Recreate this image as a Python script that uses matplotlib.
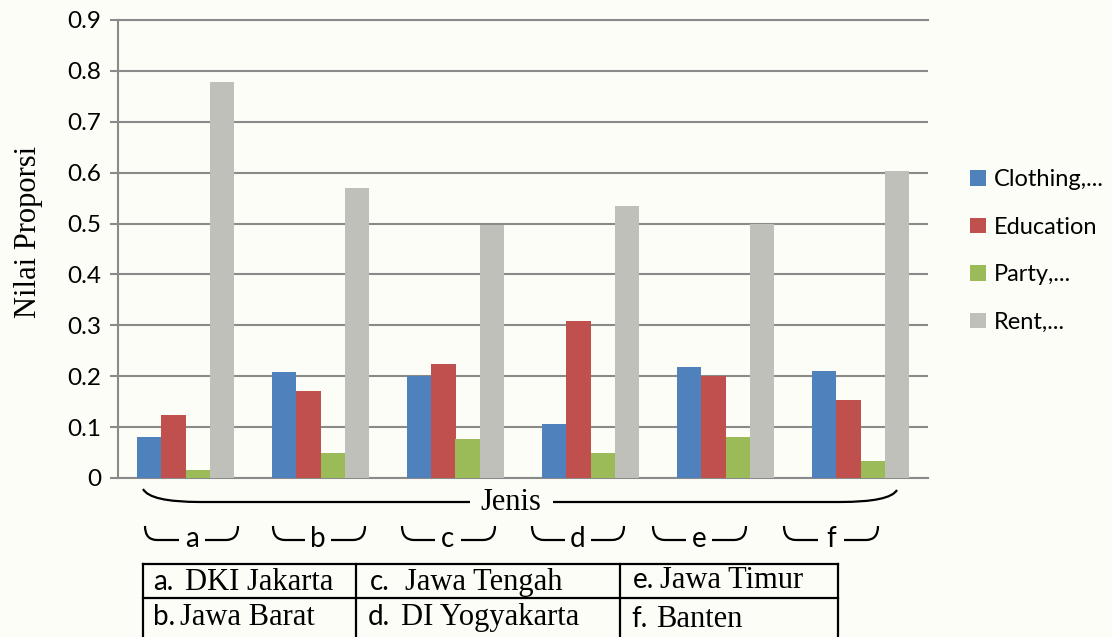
import matplotlib.pyplot as plt
import numpy as np
from matplotlib.patches import Patch, PathPatch
from matplotlib.path import Path
from matplotlib.lines import Line2D

# data
jenis = ['a', 'b', 'c', 'd', 'e', 'f']
provinsi = ['DKI Jakarta', 'Jawa Barat', 'Jawa Tengah', 'DI Yogyakarta', 'Jawa Timur', 'Banten']
seri = ['Clothing,...', 'Education', 'Party,...', 'Rent,...']
clothing = [0.081, 0.209, 0.201, 0.107, 0.219, 0.211]
education = [0.124, 0.171, 0.224, 0.309, 0.200, 0.153]
party = [0.015, 0.050, 0.077, 0.049, 0.081, 0.034]
rent = [0.778, 0.570, 0.497, 0.534, 0.500, 0.603]
yticks = [0, 0.1, 0.2, 0.3, 0.4, 0.5, 0.6, 0.7, 0.8, 0.9]

warna = ['#4f81bd', '#c0504d', '#9bbb59', '#c0c0bb']
abu = '#8a8a8a'
latar = '#fdfdf8'
sans = 'Lato'
serif = 'Liberation Serif'

W, H = 1112, 637


def fp(x, y):
    # pixel (from top-left) -> figure fraction
    return x / W, 1 - y / H


fig = plt.figure(figsize=(W / 100, H / 100), dpi=100, facecolor=latar)
ax = fig.add_axes([118 / W, 1 - 478 / H, 810 / W, 458 / H], facecolor=latar)

x = np.arange(len(jenis))
w = 0.18
for k, nilai in enumerate([clothing, education, party, rent]):
    ax.bar(x + (k - 1.5) * w, nilai, w, color=warna[k], linewidth=0, label=seri[k], zorder=3)

ax.set_xlim(-0.5, len(jenis) - 0.5)
ax.set_ylim(0, 0.9)
ax.set_yticks(yticks)
ax.set_yticklabels(['0' if v == 0 else '%.1f' % v for v in yticks], fontfamily=sans, fontsize=17.5)
ax.yaxis.grid(True, color=abu, linewidth=1.5, zorder=0)
ax.tick_params(axis='y', length=6, width=1.5, color=abu, pad=6)
ax.tick_params(axis='x', length=0, labelbottom=False)
for s in ['left', 'bottom', 'top']:
    ax.spines[s].set_color(abu)
    ax.spines[s].set_linewidth(1.5)
ax.spines['right'].set_visible(False)

ax.set_ylabel('Nilai Proporsi', fontfamily=serif, fontsize=22, va='center')
ax.yaxis.set_label_coords(-0.111, 0.537)

handles = [Patch(facecolor=c, edgecolor='none') for c in warna]
fig.legend(handles, seri, loc='upper left', bbox_to_anchor=fp(961, 160), frameon=False,
           prop={'family': sans, 'size': 17}, handlelength=0.65, handleheight=0.65,
           handletextpad=0.35, labelspacing=1.12, borderaxespad=0)


def garis(titik, kode):
    pts = [fp(px, py) for px, py in titik]
    fig.add_artist(PathPatch(Path(pts, kode), transform=fig.transFigure,
                             facecolor='none', edgecolor='black', linewidth=1.6))


# big brace under the axis with "Jenis"
M, L, C = Path.MOVETO, Path.LINETO, Path.CURVE3
garis([(143, 489), (150, 502), (200, 502), (470, 502)], [M, C, C, L])
garis([(553, 502), (840, 502), (890, 502), (897, 490)], [M, L, C, C])
fig.text(*fp(511, 510), 'Jenis', fontfamily=serif, fontsize=22, ha='center', va='baseline')

# small braces, one per group
kurung = [(145, 238, 192), (273, 365, 318), (402, 495, 448),
          (532, 624, 578), (653, 746, 699), (784, 878, 831)]
for (x0, x1, xc), huruf in zip(kurung, jenis):
    garis([(x0, 526), (x0, 540), (x0 + 12, 540), (xc - 13, 540)], [M, C, C, L])
    garis([(xc + 13, 540), (x1 - 12, 540), (x1, 540), (x1, 526)], [M, L, C, C])
    fig.text(*fp(xc, 547), huruf, fontfamily=sans, fontsize=20, ha='center', va='baseline')

# legend table for the group letters
for yy in [564, 598]:
    fig.add_artist(Line2D([143 / W, 838 / W], [1 - yy / H] * 2, color='black', linewidth=1.6))
for xx in [143, 356, 620, 838]:
    fig.add_artist(Line2D([xx / W] * 2, [1 - 564 / H, 0], color='black', linewidth=1.6))

sel = [(153, 185, 590), (153, 180, 625), (370, 405, 590),
       (368, 401, 625), (633, 660, 588), (631, 656, 627)]
for (xh, xn, yb), huruf, nama in zip(sel, jenis, provinsi):
    fig.text(*fp(xh, yb), huruf + '.', fontfamily=sans, fontsize=20, va='baseline')
    fig.text(*fp(xn, yb), nama, fontfamily=serif, fontsize=22, va='baseline')

fig.savefig('out.png', dpi=100, facecolor=latar)
